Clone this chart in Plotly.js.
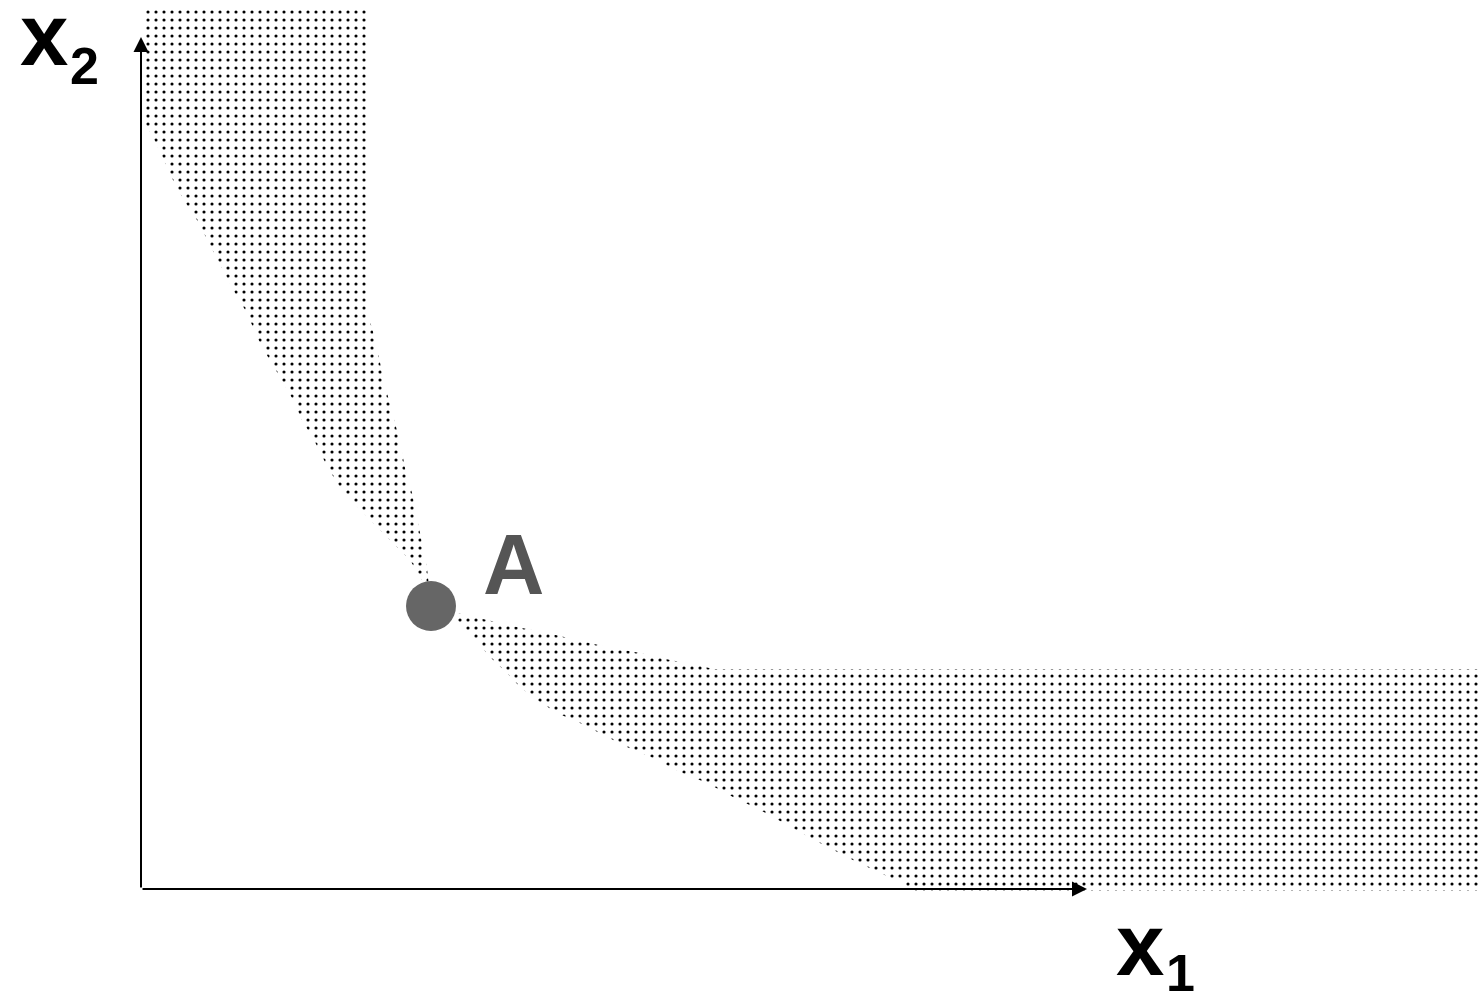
<!DOCTYPE html>
<html>
<head>
<meta charset="utf-8">
<script src="https://cdn.plot.ly/plotly-3.0.1.min.js"></script>
<style>
  html, body { margin: 0; padding: 0; background: #ffffff; }
  #chart { width: 1482px; height: 997px; }
</style>
</head>
<body>
<div id="chart"></div>
<script>
// Units: origin at the axes corner (x1 = 0, x2 = 0).
// Bundle A
const pointA_x1 = [2.90];
const pointA_x2 = [2.83];
const pointLabel = ["A"];

// Upper shaded band: right edge (from top down to A)
const upperRight_x1 = [0.04, 2.26, 2.26, 2.31, 2.36, 2.41, 2.46, 2.52, 2.59, 2.64, 2.71, 2.77, 2.82, 2.86];
const upperRight_x2 = [8.81, 8.81, 5.76, 5.61, 5.42, 5.16, 4.96, 4.72, 4.47, 4.21, 3.96, 3.66, 3.42, 3.21];

// Lower shaded band: top edge (from A to the right)
const lowerTop_x1 = [3.16, 3.46, 3.76, 4.06, 4.36, 4.66, 4.99, 5.29, 5.56, 5.72, 13.6];
const lowerTop_x2 = [2.76, 2.69, 2.62, 2.56, 2.49, 2.42, 2.36, 2.29, 2.24, 2.20, 2.20];

// Lower shaded band: bottom edge (from the right back to A)
const lowerBottom_x1 = [13.6, 7.69, 7.62, 7.39, 7.12, 6.79, 6.46, 6.19, 5.92, 5.66, 5.39, 5.12, 4.86, 4.59, 4.39, 4.16, 3.96, 3.79, 3.66, 3.49, 3.32, 3.16];
const lowerBottom_x2 = [-0.02, -0.02, 0.06, 0.16, 0.29, 0.46, 0.64, 0.79, 0.92, 1.06, 1.17, 1.31, 1.42, 1.56, 1.66, 1.76, 1.89, 2.02, 2.16, 2.32, 2.52, 2.69];

// Upper shaded band: left edge (from A back up to the top)
const upperLeft_x1 = [2.84, 2.69, 2.52, 2.36, 2.19, 2.02, 1.87, 1.74, 1.61, 1.51, 1.39, 1.27, 1.16, 1.06, 0.94, 0.82, 0.71, 0.56, 0.44, 0.32, 0.22, 0.12, 0.04, 0.04];
const upperLeft_x2 = [3.04, 3.29, 3.46, 3.62, 3.79, 3.97, 4.21, 4.47, 4.69, 4.91, 5.12, 5.32, 5.52, 5.76, 5.96, 6.19, 6.39, 6.69, 6.87, 7.09, 7.31, 7.52, 7.66, 8.81];

// Axis extents
const axisEnd_x1 = 9.46;
const axisEnd_x2 = 8.52;
const axisLabels = ["x", "x"];
const axisSubs = ["1", "2"];

const regionX = [].concat(upperRight_x1, pointA_x1, lowerTop_x1, lowerBottom_x1, pointA_x1, upperLeft_x1);
const regionY = [].concat(upperRight_x2, pointA_x2, lowerTop_x2, lowerBottom_x2, pointA_x2, upperLeft_x2);

const traces = [
  {
    type: 'scatter',
    x: regionX,
    y: regionY,
    mode: 'lines',
    line: { width: 0, color: 'rgba(0,0,0,0)' },
    fill: 'toself',
    fillcolor: 'rgba(255,255,255,0)',
    fillpattern: { shape: '.', size: 8, solidity: 0.12, fgcolor: '#000000', bgcolor: 'rgba(255,255,255,0)' },
    hoverinfo: 'skip'
  },
  {
    type: 'scatter',
    x: pointA_x1,
    y: pointA_x2,
    mode: 'markers',
    marker: { size: 50, color: '#666666', line: { width: 0 } },
    hoverinfo: 'skip'
  }
];

const font = "'Liberation Sans', Arial, Helvetica, sans-serif";

const layout = {
  width: 1482,
  height: 997,
  margin: { l: 0, r: 0, t: 0, b: 0, pad: 0 },
  paper_bgcolor: '#ffffff',
  plot_bgcolor: '#ffffff',
  showlegend: false,
  xaxis: { range: [-1.41, 13.41], visible: false, fixedrange: true },
  yaxis: { range: [-1.08, 8.89], visible: false, fixedrange: true },
  annotations: [
    // y axis with arrow
    { x: 0, y: axisEnd_x2, ax: 0, ay: 0, xref: 'x', yref: 'y', axref: 'x', ayref: 'y',
      text: '', showarrow: true, arrowhead: 2, arrowsize: 1.5, arrowwidth: 2, arrowcolor: '#000000' },
    // x axis with arrow
    { x: axisEnd_x1, y: 0, ax: 0, ay: 0, xref: 'x', yref: 'y', axref: 'x', ayref: 'y',
      text: '', showarrow: true, arrowhead: 2, arrowsize: 1.5, arrowwidth: 2, arrowcolor: '#000000' },
    // label A
    { x: 3.72, y: 3.25, xref: 'x', yref: 'y', text: '<b>' + pointLabel[0] + '</b>', showarrow: false,
      xanchor: 'center', yanchor: 'middle', font: { family: font, size: 85, color: '#555555' } },
    // x2 label
    { x: 43.5 / 1482, y: 1 - 34 / 997, xref: 'paper', yref: 'paper', text: '<b>' + axisLabels[1] + '</b>', showarrow: false,
      xanchor: 'center', yanchor: 'middle', font: { family: font, size: 87, color: '#000000' } },
    { x: 84 / 1482, y: 1 - 66.5 / 997, xref: 'paper', yref: 'paper', text: '<b>' + axisSubs[1] + '</b>', showarrow: false,
      xanchor: 'center', yanchor: 'middle', font: { family: font, size: 52, color: '#000000' } },
    // x1 label
    { x: 1140 / 1482, y: 1 - 944 / 997, xref: 'paper', yref: 'paper', text: '<b>' + axisLabels[0] + '</b>', showarrow: false,
      xanchor: 'center', yanchor: 'middle', font: { family: font, size: 87, color: '#000000' } },
    { x: 1180 / 1482, y: 1 - 973 / 997, xref: 'paper', yref: 'paper', text: '<b>' + axisSubs[0] + '</b>', showarrow: false,
      xanchor: 'center', yanchor: 'middle', font: { family: font, size: 52, color: '#000000' } }
  ]
};

Plotly.newPlot('chart', traces, layout, { staticPlot: true, displayModeBar: false });
</script>
</body>
</html>
